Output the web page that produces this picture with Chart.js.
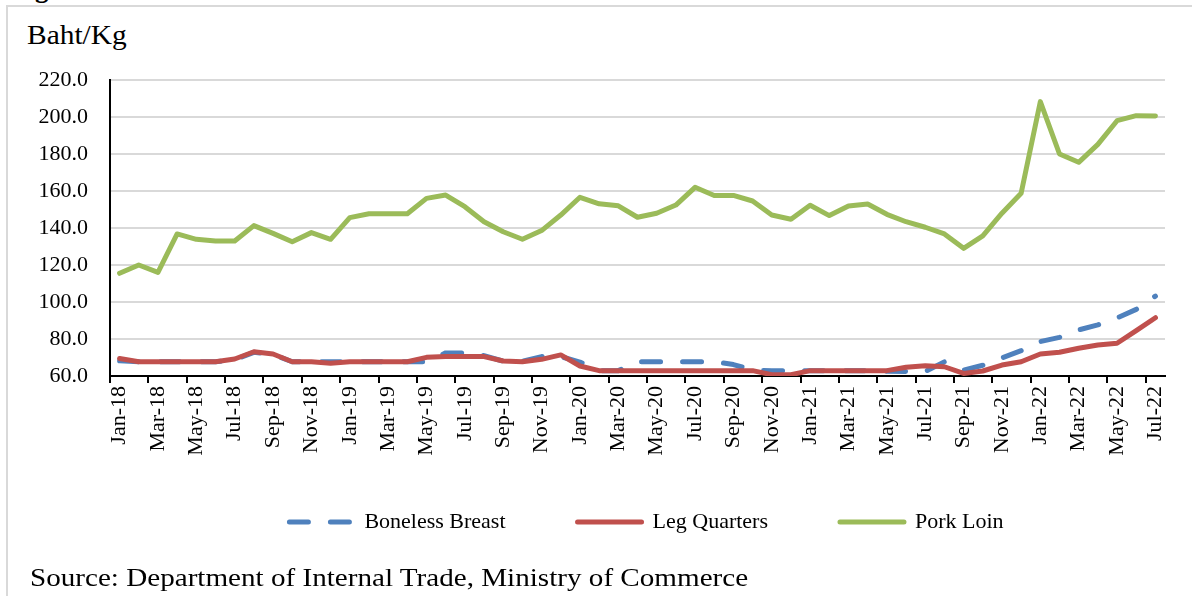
<!DOCTYPE html>
<html>
<head>
<meta charset="utf-8">
<script src="https://cdn.jsdelivr.net/npm/chart.js@4.4.1/dist/chart.umd.min.js"></script>
<style>
  html, body { margin: 0; padding: 0; background: #fff; width: 1192px; height: 596px; overflow: hidden; }
  #wrap { position: relative; width: 1192px; height: 596px; overflow: hidden; }
  #frame { position: absolute; left: 6px; top: 5px; width: 1300px; height: 700px; border: 2px solid #d9d9d9; box-sizing: border-box; }
  #cut { position: absolute; left: 11px; top: -25px; font: bold 27px 'Liberation Serif'; line-height: 27px; color: #000; white-space: nowrap; }
  #ytitle { position: absolute; left: 27px; top: 22px; font: 27px 'Liberation Serif'; line-height: 27px; color: #000; transform: scaleX(1.09); transform-origin: 0 0; white-space: nowrap; }
  #source { position: absolute; left: 30px; top: 565px; font: 26px 'Liberation Serif'; line-height: 26px; color: #000; transform: scaleX(1.12); transform-origin: 0 0; white-space: nowrap; }
  #cv { position: absolute; left: 0; top: 0; }
</style>
</head>
<body>
<div id="wrap">
  <div id="frame"></div>
  <div id="cut">Fig</div>
  <div id="ytitle">Baht/Kg</div>
  <canvas id="cv" width="1192" height="566"></canvas>
  <div id="source">Source: Department of Internal Trade, Ministry of Commerce</div>
</div>
<script>
const months = [
  'Jan-18','Feb-18','Mar-18','Apr-18','May-18','Jun-18','Jul-18','Aug-18','Sep-18','Oct-18','Nov-18','Dec-18',
  'Jan-19','Feb-19','Mar-19','Apr-19','May-19','Jun-19','Jul-19','Aug-19','Sep-19','Oct-19','Nov-19','Dec-19',
  'Jan-20','Feb-20','Mar-20','Apr-20','May-20','Jun-20','Jul-20','Aug-20','Sep-20','Oct-20','Nov-20','Dec-20',
  'Jan-21','Feb-21','Mar-21','Apr-21','May-21','Jun-21','Jul-21','Aug-21','Sep-21','Oct-21','Nov-21','Dec-21',
  'Jan-22','Feb-22','Mar-22','Apr-22','May-22','Jun-22','Jul-22'
];

const bonelessBreast = [
  68.2, 67.7, 67.7, 67.7, 67.7, 67.7, 68.8, 72.8, 71.7, 67.7, 67.7, 67.7,
  67.7, 67.7, 67.7, 67.7, 67.7, 72.5, 72.5, 71.0, 68.0, 68.0, 70.5, 70.5,
  67.5, 62.9, 62.9, 67.7, 67.7, 67.7, 67.7, 67.7, 66.2, 63.2, 62.9, 62.9,
  62.9, 62.9, 62.9, 62.9, 62.6, 62.4, 62.4, 67.7, 63.2, 65.8, 69.8, 73.7,
  78.6, 80.9, 84.9, 87.6, 91.4, 96.0, 103.2
];

const legQuarters = [
  69.5, 67.7, 67.7, 67.7, 67.7, 67.7, 69.2, 73.1, 71.9, 67.7, 67.7, 66.9,
  67.7, 67.7, 67.7, 67.7, 70.1, 70.5, 70.5, 70.5, 68.1, 67.7, 69.0, 71.4,
  65.4, 62.9, 62.9, 62.9, 62.9, 62.9, 62.9, 62.9, 62.9, 62.9, 60.7, 60.7,
  62.9, 62.9, 62.9, 62.9, 62.9, 64.7, 65.6, 65.0, 61.4, 62.7, 65.9, 67.7,
  71.9, 72.8, 75.0, 76.8, 77.7, 84.5, 91.5
];

const porkLoin = [
  115.5, 120.0, 116.0, 136.8, 133.9, 133.0, 133.0, 141.3, 137.1, 132.6, 137.5, 133.9,
  145.6, 147.7, 147.7, 147.7, 156.0, 157.8, 151.5, 143.4, 138.0, 133.9, 138.6, 147.0,
  156.6, 153.1, 152.0, 145.8, 148.0, 152.4, 162.0, 157.6, 157.6, 154.6, 147.0, 144.7,
  152.3, 146.7, 151.9, 153.0, 147.4, 143.4, 140.4, 136.8, 129.0, 135.7, 148.0, 158.8,
  208.3, 180.0, 175.5, 185.2, 198.0, 200.7, 200.5
];

const yTicks = { min: 60, max: 220, step: 20 };

const FONT = 'Liberation Serif';

const shiftLegend = {
  id: 'shiftLegend',
  afterLayout(chart) {
    const lg = chart.legend;
    if (lg) { lg.left += 9; lg.right += 9; lg.top -= 23; lg.bottom -= 23; }
  }
};

new Chart(document.getElementById('cv'), {
  type: 'line',
  data: {
    labels: months,
    datasets: [
      {
        label: 'Boneless Breast', data: bonelessBreast,
        borderColor: '#4F81BD', backgroundColor: '#4F81BD',
        borderWidth: 5, borderDash: [19, 22], borderCapStyle: 'round', borderJoinStyle: 'round',
        pointRadius: 0, tension: 0, order: 2
      },
      {
        label: 'Leg Quarters', data: legQuarters,
        borderColor: '#C0504D', backgroundColor: '#C0504D',
        borderWidth: 5, borderCapStyle: 'round', borderJoinStyle: 'round',
        pointRadius: 0, tension: 0, order: 1
      },
      {
        label: 'Pork Loin', data: porkLoin,
        borderColor: '#9BBB59', backgroundColor: '#9BBB59',
        borderWidth: 5, borderCapStyle: 'round', borderJoinStyle: 'round',
        pointRadius: 0, tension: 0, order: 0
      }
    ]
  },
  options: {
    responsive: false,
    animation: false,
    events: [],
    layout: { padding: { top: 80, left: 0, right: 27, bottom: 0 } },
    scales: {
      x: {
        type: 'category',
        offset: true,
        afterFit(scale) { scale.height = 86; },
        grid: {
          offset: true,
          drawOnChartArea: false,
          drawTicks: true,
          tickLength: 7,
          lineWidth: 2,
          color: (ctx) => (ctx.index % 2 === 0 ? '#000000' : 'rgba(0,0,0,0)')
        },
        border: { display: true, color: '#000000', width: 2 },
        ticks: {
          autoSkip: false,
          maxRotation: 90,
          minRotation: 90,
          padding: 3,
          color: '#000000',
          font: { family: FONT, size: 22 },
          callback: function (val, index) { return index % 2 === 0 ? this.getLabelForValue(val) : ''; }
        }
      },
      y: {
        min: yTicks.min,
        max: yTicks.max,
        afterFit(scale) { scale.width = 110; },
        grid: { color: '#d9d9d9', lineWidth: 2, drawTicks: false },
        border: { display: true, color: '#000000', width: 2 },
        ticks: {
          stepSize: yTicks.step,
          padding: 22,
          color: '#000000',
          font: { family: FONT, size: 22 },
          callback: (v) => Number(v).toFixed(1)
        }
      }
    },
    plugins: {
      tooltip: { enabled: false },
      title: { display: false },
      legend: {
        display: true,
        position: 'bottom',
        fullSize: false,
        labels: {
          usePointStyle: true,
          pointStyle: 'line',
          pointStyleWidth: 64,
          padding: 72,
          color: '#000000',
          font: { family: FONT, size: 22 },
          sort: (a, b) => a.datasetIndex - b.datasetIndex,
          generateLabels: (chart) => {
            const items = Chart.defaults.plugins.legend.labels.generateLabels(chart);
            return items.map((it) => {
              const ds = chart.data.datasets[it.datasetIndex];
              it.lineDash = ds.borderDash || [];
              it.lineDashOffset = 0;
              it.lineCap = 'round';
              it.lineWidth = ds.borderWidth;
              it.strokeStyle = ds.borderColor;
              it.fillStyle = ds.borderColor;
              it.pointStyle = 'line';
              return it;
            });
          }
        }
      }
    }
  },
  plugins: [shiftLegend]
});
</script>
</body>
</html>
